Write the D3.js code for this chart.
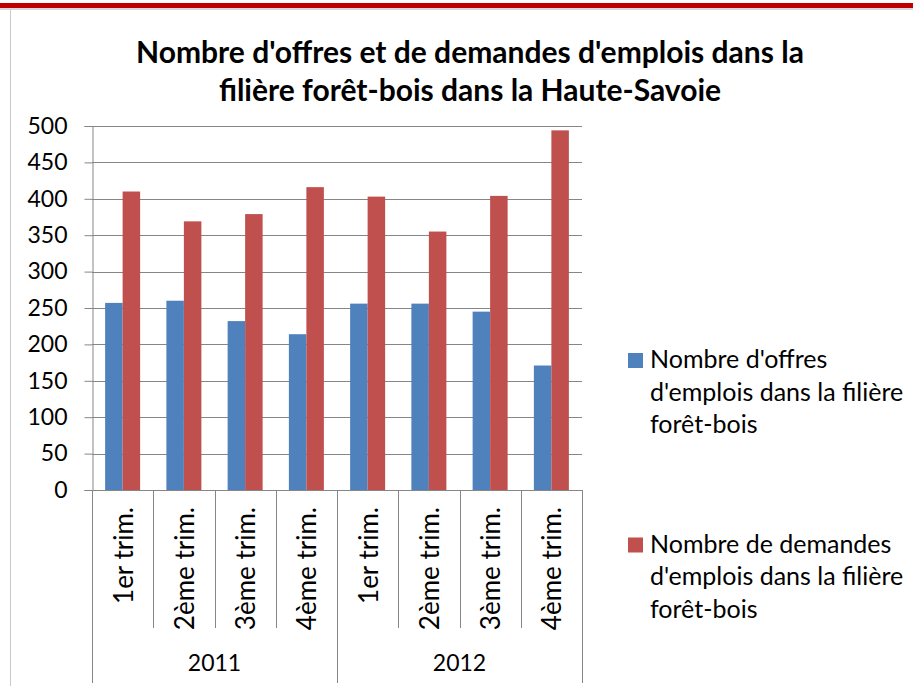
<!DOCTYPE html>
<html>
<head>
<meta charset="utf-8">
<script src="https://cdn.jsdelivr.net/npm/d3@7"></script>
<style>
  body { margin: 0; background: #fff; }
  text { font-family: Lato, "Open Sans", sans-serif; fill: #000; }
</style>
</head>
<body>
<script>
const svgWidth = 913
const svgHeight = 686

const margin = { top: 126, left: 92, right: 331, bottom: 196 }
const chartWidth = svgWidth - margin.left - margin.right
const chartHeight = svgHeight - margin.top - margin.bottom

const years = ["2011", "2012"]
const quarters = ["1er trim.", "2ème trim.", "3ème trim.", "4ème trim."]
const seriesNames = [
    "Nombre d'offres d'emplois dans la filière forêt-bois",
    "Nombre de demandes d'emplois dans la filière forêt-bois"
]
const offres = [257, 260, 232, 214, 256, 256, 245, 171]
const demandes = [410, 369, 379, 416, 403, 355, 404, 494]
const yTicks = [0, 50, 100, 150, 200, 250, 300, 350, 400, 450, 500]

const titleLines = [
    "Nombre d'offres et de demandes d'emplois dans la",
    "filière forêt-bois dans la Haute-Savoie"
]
const legendLines = [
    ["Nombre d'offres", "d'emplois dans la filière", "forêt-bois"],
    ["Nombre de demandes", "d'emplois dans la filière", "forêt-bois"]
]

const colorOffres = "#4f81bd"
const colorDemandes = "#c0504d"
const colorGrid = "#868686"
const fontSize = 25
const numberSize = 23

// one entry per bar group
const data = []
years.forEach((y, i) => quarters.forEach((q, j) => {
    const k = i * quarters.length + j
    data.push({ key: y + "-" + q, year: y, quarter: q, values: [offres[k], demandes[k]] })
}))

const svg = d3.select("body").append("svg")
    .attr("width", svgWidth)
    .attr("height", svgHeight)

// top red rule and left frame line
svg.append("rect").attr("x", 0).attr("y", 3).attr("width", svgWidth).attr("height", 5).attr("fill", "#c00000")
svg.append("line").attr("x1", 0).attr("x2", svgWidth).attr("y1", 9).attr("y2", 9).attr("stroke", "#b0b0b0")
svg.append("line").attr("x1", 10.5).attr("x2", 10.5).attr("y1", 10).attr("y2", svgHeight).attr("stroke", "#c8c8c8")

const chartG = svg.append("g")
    .attr("transform", `translate(${margin.left}, ${margin.top})`)

const y = d3.scaleLinear().domain([0, 500]).range([chartHeight, 0])
const x0 = d3.scaleBand().domain(data.map(d => d.key)).range([0, chartWidth]).padding(0)
const x1 = d3.scaleBand().domain([0, 1]).range([0, x0.bandwidth()]).paddingInner(0).paddingOuter(0.75)

// gridlines
chartG.append("g")
    .selectAll("line")
    .data(yTicks.slice(1))
    .join("line")
    .attr("x1", 0).attr("x2", chartWidth)
    .attr("y1", d => Math.round(y(d)) + 0.5).attr("y2", d => Math.round(y(d)) + 0.5)
    .attr("stroke", colorGrid)

// y axis
const yAxis = d3.axisLeft(y).tickValues(yTicks).tickSize(8).tickPadding(17)
const yG = chartG.append("g").attr("transform", "translate(0.5,0)").call(yAxis)
yG.select(".domain").attr("stroke", colorGrid)
yG.selectAll(".tick line").attr("stroke", colorGrid)
yG.selectAll(".tick text").attr("font-size", numberSize).style("font-family", "Lato")

// bars
const groups = chartG.append("g")
    .selectAll("g")
    .data(data)
    .join("g")
    .attr("transform", d => `translate(${x0(d.key)},0)`)

groups.selectAll("rect")
    .data(d => d.values)
    .join("rect")
    .attr("x", (d, i) => x1(i))
    .attr("width", x1.bandwidth())
    .attr("y", d => y(d))
    .attr("height", d => chartHeight - y(d))
    .attr("fill", (d, i) => i === 0 ? colorOffres : colorDemandes)

// x axis line
chartG.append("line")
    .attr("x1", 0).attr("x2", chartWidth)
    .attr("y1", chartHeight + 0.5).attr("y2", chartHeight + 0.5)
    .attr("stroke", colorGrid)

// category dividers
const bounds = data.map(d => x0(d.key)).concat([chartWidth])
chartG.append("g")
    .selectAll("line")
    .data(bounds)
    .join("line")
    .attr("x1", d => Math.round(d) + 0.5).attr("x2", d => Math.round(d) + 0.5)
    .attr("y1", chartHeight)
    .attr("y2", (d, i) => i % quarters.length === 0 ? svgHeight - margin.top - 3 : chartHeight + 138)
    .attr("stroke", colorGrid)

// quarter labels
chartG.append("g")
    .selectAll("text")
    .data(data)
    .join("text")
    .attr("transform", d => `translate(${x0(d.key) + x0.bandwidth() / 2}, ${chartHeight + 17}) rotate(-90)`)
    .attr("text-anchor", "end")
    .attr("dominant-baseline", "central")
    .attr("font-size", 26)
    .text(d => d.quarter)

// year labels
chartG.append("g")
    .selectAll("text")
    .data(years)
    .join("text")
    .attr("x", (d, i) => x0(d + "-" + quarters[0]) + x0.bandwidth() * quarters.length / 2)
    .attr("y", chartHeight + 181)
    .attr("text-anchor", "middle")
    .attr("font-size", numberSize)
    .text(d => d)

// title
svg.append("g")
    .selectAll("text")
    .data(titleLines)
    .join("text")
    .attr("x", 470)
    .attr("y", (d, i) => 63 + i * 38)
    .attr("text-anchor", "middle")
    .attr("font-size", 30)
    .attr("font-weight", "bold")
    .text(d => d)

// legend
const legend = svg.append("g")
    .selectAll("g")
    .data(seriesNames)
    .join("g")
    .attr("transform", (d, i) => `translate(628, ${353 + i * 184.5})`)

legend.append("rect")
    .attr("width", 15).attr("height", 15)
    .attr("fill", (d, i) => i === 0 ? colorOffres : colorDemandes)

legend.selectAll("text")
    .data((d, i) => legendLines[i])
    .join("text")
    .attr("x", 22)
    .attr("y", (d, i) => 15 + i * 32.5)
    .attr("font-size", fontSize)
    .text(d => d)
</script>
</body>
</html>
